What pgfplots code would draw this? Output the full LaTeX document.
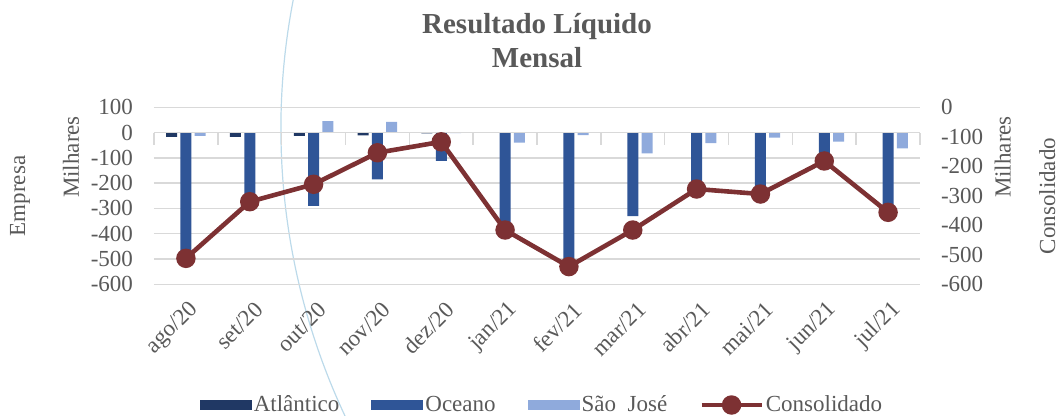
\documentclass[border=0pt]{standalone}
\usepackage{pgfplots}
\pgfplotsset{compat=1.18}
\usepackage{fontspec}
\setmainfont{Liberation Serif}

\definecolor{atl}{RGB}{32,56,100}
\definecolor{oce}{RGB}{47,85,151}
\definecolor{sjo}{RGB}{143,170,220}
\definecolor{cons}{RGB}{125,49,51}
\definecolor{txtgray}{RGB}{89,89,89}
\definecolor{gridgray}{RGB}{217,217,217}
\definecolor{arccol}{RGB}{188,218,234}

\pgfplotsset{
  base/.style={width=383pt, height=88.5pt, scale only axis,
    at={(0,0)}, anchor=south west, xmin=-0.5, xmax=11.5,
    /pgf/number format/assume math mode=true,
    ticklabel style={font=\fontsize{11.5}{13}\selectfont, text=txtgray},
    major tick length=0pt, axis line style={draw=none}},
  barleg/.style={legend image code/.code={\fill[##1] (0pt,-2.6pt) rectangle (26pt,2.6pt);}},
  consleg/.style={legend image code/.code={\draw[mark repeat=2, mark phase=2, ##1] plot coordinates {(0pt,0pt) (15pt,0pt) (30pt,0pt)};}},
}

\begin{document}
\begin{tikzpicture}[font=\fontsize{11.5}{13}\selectfont]
\path[use as bounding box] (-77pt,-65.85pt) rectangle (452pt,142.15pt);
\draw[arccol, line width=0.6pt] (401.75pt,77.9pt) ++(168:338.3pt)
  arc[start angle=168, end angle=207, radius=338.3pt];

% bars, left axis
\begin{axis}[base, clip=false,
  ymin=-600, ymax=100, ytick={-600,-500,...,100},
  ymajorgrids, grid style={gridgray, line width=0.75pt},
  xtick={0,...,11},
  xticklabels={ago/20,set/20,out/20,nov/20,dez/20,jan/21,fev/21,mar/21,abr/21,mai/21,jun/21,jul/21},
  xticklabel style={rotate=45, anchor=east, yshift=-11pt, xshift=-1pt},
  yticklabel style={xshift=-7pt},
  ybar=1.65pt, bar width=5.5pt,
  title={Resultado Líquido\\Mensal},
  title style={font=\fontsize{14.5}{17}\selectfont\bfseries, text=txtgray,
    align=center, at={(0.5,1)}, anchor=south, yshift=13.5pt, inner sep=0pt},
]
\addplot[fill=atl, draw=none] coordinates {(0,-17) (1,-17) (2,-13) (3,-11) (4,-3) (5,-1) (6,-1) (7,-1) (8,-1) (9,-1) (10,-1) (11,-1)};
\addplot[fill=oce, draw=none] coordinates {(0,-490) (1,-298) (2,-290) (3,-185) (4,-112) (5,-380) (6,-520) (7,-330) (8,-210) (9,-270) (10,-145) (11,-300)};
\addplot[fill=sjo, draw=none] coordinates {(0,-13) (1,0) (2,45) (3,42) (4,-2) (5,-40) (6,-10) (7,-82) (8,-42) (9,-20) (10,-36) (11,-62)};
\node[rotate=90, text=txtgray] at (axis description cs:-0.1084,0.719) {Milhares};
\node[rotate=90, text=txtgray] at (axis description cs:-0.175,0.499) {Empresa};
\node[rotate=90, text=txtgray] at (axis description cs:1.108,0.719) {Milhares};
\node[rotate=90, text=txtgray] at (axis description cs:1.166,0.499) {Consolidado};
\end{axis}

% category axis at zero
\begin{axis}[width=383pt, height=88.5pt, scale only axis,
  at={(0,0)}, anchor=south west, xmin=-0.5, xmax=11.5, ymin=-600, ymax=100,
  axis x line=middle, axis y line=none,
  x axis line style={gridgray, line width=0.75pt, -},
  xtick={-0.5,0.5,...,11.5}, xticklabels={},
  tick style={gridgray, line width=0.75pt}, major tick length=6pt, tick align=outside]
\end{axis}

% line, right axis
\begin{axis}[base,
  ymin=-600, ymax=0, ytick={-600,-500,...,0},
  yticklabel pos=right, xtick=\empty,
  yticklabel style={xshift=7pt},
  legend columns=4,
  legend style={at={(0.5065,-0.682)}, anchor=center, draw=none, fill=none,
    font=\fontsize{11.5}{13}\selectfont, text=txtgray, inner sep=0pt,
    nodes={inner sep=1pt},
    /tikz/every even column/.append style={column sep=15pt}},
]
\addlegendimage{barleg, fill=atl, draw=none}
\addlegendimage{barleg, fill=oce, draw=none}
\addlegendimage{barleg, fill=sjo, draw=none}
\addplot[cons, line width=2.3pt, mark=*, mark size=3.7pt, consleg]
  coordinates {(0,-512) (1,-320) (2,-261) (3,-154) (4,-117) (5,-416) (6,-540) (7,-416) (8,-277) (9,-294) (10,-182) (11,-356)};
\legend{Atlântico, Oceano, {São\ \ José}, Consolidado}
\end{axis}
\end{tikzpicture}
\end{document}
